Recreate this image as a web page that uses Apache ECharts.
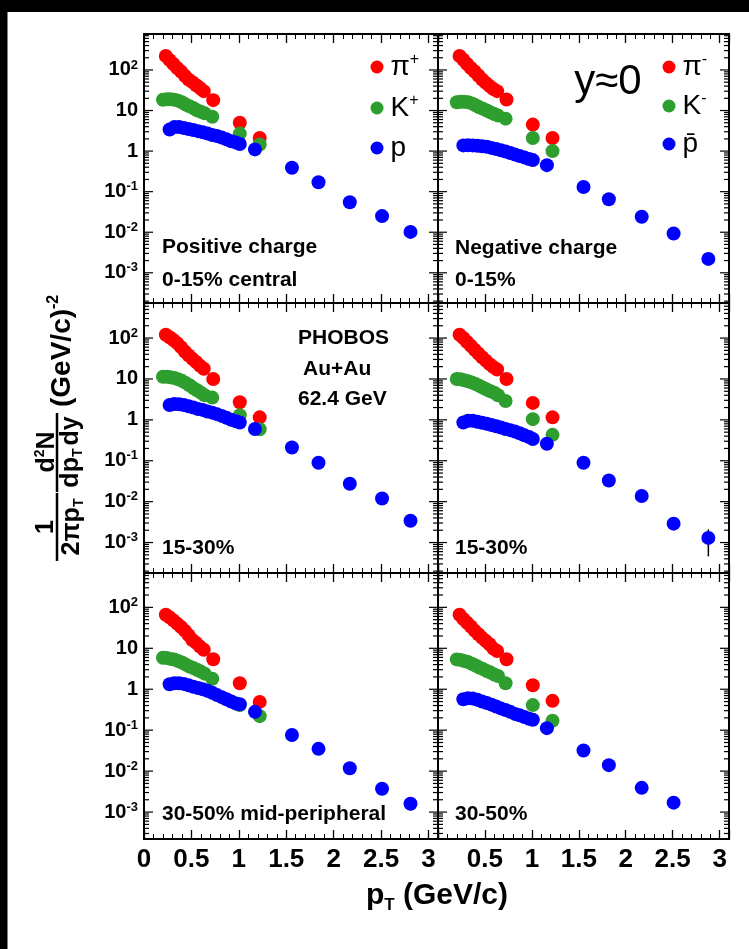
<!DOCTYPE html>
<html><head><meta charset="utf-8">
<script src="https://cdn.jsdelivr.net/npm/echarts@6/dist/echarts.min.js"></script>
<style>html,body{margin:0;padding:0;background:#fff}#c{width:749px;height:949px}</style>
</head><body><div id="c"></div><script>
// ---------- data ----------
const ptPion = [0.23,0.27,0.31,0.35,0.39,0.43,0.47,0.51,0.55,0.59,0.63,0.73,1.01,1.22];
const ptKaon = [0.20,0.24,0.28,0.32,0.36,0.40,0.44,0.48,0.52,0.56,0.60,0.64,0.72,1.01,1.22];
const ptProtonLeft  = [0.27,0.32,0.37,0.42,0.47,0.52,0.57,0.62,0.67,0.72,0.77,0.82,0.87,0.92,0.97,1.01,1.17,1.56,1.84,2.17,2.51,2.81];
const ptProtonRight = [0.27,0.32,0.37,0.42,0.47,0.52,0.57,0.62,0.67,0.72,0.77,0.82,0.87,0.92,0.97,1.01,1.16,1.55,1.82,2.17,2.51,2.88];

const pionPos_0_15  = [220,175,140,112,92,72,58,50,42,36,30,18,5.0,2.1];
const pionNeg_0_15  = [220,178,140,112,92,73,58,48,40,34,30,18.7,4.5,2.1];
const pionPos_15_30 = [120,105,90,75,60,47,38,31,26,21,17.7,10,2.7,1.15];
const pionNeg_15_30 = [120,100,80,65,52,42,34,28,23,19.5,17,10,2.6,1.15];
const pionPos_30_50 = [66,57,48,40,33,27,21,16,13.6,11,9.2,5.4,1.4,0.49];
const pionNeg_30_50 = [66,52,42,34,27,22,18,15,12.5,9.8,8.6,5.4,1.25,0.52];

const kaonPos_0_15  = [18.5,19,19,18.5,17.5,16,14,12.8,11.5,10.2,9.3,8.6,7.0,2.7,1.45];
const kaonNeg_0_15  = [16,16.5,16.5,16,15,13.5,12,11,10,9,8.2,7.5,6.3,2.1,1.0];
const kaonPos_15_30 = [11.3,11.3,11,10.5,9.8,9.0,8.0,7.0,6.0,5.3,4.6,4.0,3.5,1.3,0.59];
const kaonNeg_15_30 = [10,9.8,9.3,8.8,8.2,7.5,6.8,6.1,5.5,5.0,4.6,4.0,2.9,1.04,0.43];
const kaonPos_30_50 = [5.9,5.8,5.5,5.3,4.9,4.5,4.0,3.6,3.3,3.0,2.7,2.4,1.8,0.41,0.22];
const kaonNeg_30_50 = [5.35,5.2,4.9,4.6,4.2,3.8,3.4,3.1,2.8,2.55,2.3,2.1,1.4,0.41,0.17];

const protonPos_0_15  = [3.4,3.9,3.9,3.7,3.5,3.3,3.1,2.9,2.7,2.5,2.35,2.15,1.95,1.75,1.62,1.5,1.1,0.39,0.17,0.055,0.025,0.0102];
const protonNeg_0_15  = [1.38,1.4,1.38,1.35,1.32,1.28,1.2,1.12,1.05,0.98,0.9,0.82,0.76,0.7,0.64,0.6,0.45,0.13,0.065,0.024,0.0093,0.0022];
const protonPos_15_30 = [2.3,2.45,2.4,2.3,2.15,2.0,1.85,1.75,1.6,1.5,1.38,1.25,1.12,1.0,0.92,0.86,0.6,0.21,0.089,0.0275,0.0119,0.0034];
const protonNeg_15_30 = [0.86,0.95,0.95,0.9,0.85,0.8,0.75,0.7,0.65,0.6,0.56,0.52,0.47,0.42,0.38,0.34,0.26,0.089,0.033,0.0138,0.0029,0.0013];
const protonPos_30_50 = [1.32,1.4,1.4,1.35,1.25,1.15,1.07,1.0,0.92,0.82,0.72,0.64,0.57,0.5,0.45,0.43,0.28,0.076,0.035,0.0118,0.0037,0.0016];
const protonNeg_30_50 = [0.57,0.6,0.59,0.55,0.5,0.46,0.42,0.38,0.34,0.31,0.28,0.25,0.23,0.21,0.19,0.18,0.112,0.032,0.014,0.0039,0.0017,null];

// visible error bars (panel index, point index in proton arrays, low, high)
const errPanel = [3, 4, 5];
const errIndex = [21, 21, 20];
const errLow   = [0.00046, 0.0011, 0.0012];
const errHigh  = [0.0021, 0.0021, 0.0023];

const xTickLabels = ['0','0.5','1','1.5','2','2.5','3'];

// ---------- layout ----------
const cols = [{left:144,width:294},{left:438,width:291}];
const rows = [{top:34,height:269,min:1.8e-4,max:770},{top:303,height:270,min:1.8e-4,max:720},{top:573,height:266,min:2.2e-4,max:690}];
const panels = [
  {pion:pionPos_0_15, kaon:kaonPos_0_15, proton:protonPos_0_15, pt:ptProtonLeft, ch:'pos'},
  {pion:pionNeg_0_15, kaon:kaonNeg_0_15, proton:protonNeg_0_15, pt:ptProtonRight, ch:'neg'},
  {pion:pionPos_15_30, kaon:kaonPos_15_30, proton:protonPos_15_30, pt:ptProtonLeft, ch:'pos'},
  {pion:pionNeg_15_30, kaon:kaonNeg_15_30, proton:protonNeg_15_30, pt:ptProtonRight, ch:'neg'},
  {pion:pionPos_30_50, kaon:kaonPos_30_50, proton:protonPos_30_50, pt:ptProtonLeft, ch:'pos'},
  {pion:pionNeg_30_50, kaon:kaonNeg_30_50, proton:protonNeg_30_50, pt:ptProtonRight, ch:'neg'}
];
const RED='#ff0000', GREEN='#2e9e2e', BLUE='#0000ff';
const FONT='"Liberation Sans", Arial, sans-serif';

const grid=[], xAxis=[], yAxis=[], series=[];
function pairs(xs, ys){ const out=[]; ys.forEach((v,j)=>{ if(v!=null) out.push([xs[j], v]); }); return out; }

panels.forEach((p,i)=>{
  const r = Math.floor(i/2), c = i%2;
  const R = rows[r], C = cols[c];
  grid.push({left:C.left, top:R.top, width:C.width, height:R.height, show:true, borderColor:'#000', borderWidth:2, backgroundColor:'transparent', containLabel:false});
  const xBase = {gridIndex:i, type:'value', min:0, max:3.1, interval:0.5,
    axisLine:{show:false}, splitLine:{show:false},
    axisTick:{show:true, inside:true, length:9, lineStyle:{color:'#000', width:1.3}},
    minorTick:{show:true, splitNumber:5, length:5, lineStyle:{color:'#000', width:1}}};
  xAxis.push(Object.assign({}, xBase, {position:'bottom',
    axisLabel:{show: r===2, showMinLabel: c===0, showMaxLabel:false, color:'#000', fontFamily:FONT, fontWeight:'bold', fontSize:26, margin:8,
      formatter: v => { const k = Math.round(v*2); return xTickLabels[k] !== undefined ? xTickLabels[k] : ''; }}}));
  xAxis.push(Object.assign({}, xBase, {position:'top', axisLabel:{show:false}}));
  yAxis.push({gridIndex:i, type:'log', min:R.min, max:R.max, splitNumber:6,
    axisLine:{show:false}, axisTick:{show:false}, splitLine:{show:false}, minorTick:{show:false},
    axisLabel:{show: c===0, showMinLabel:false, showMaxLabel:false, margin:6, color:'#000',
      fontFamily:FONT, fontWeight:'bold', fontSize:20,
      formatter: v => { const e = Math.round(Math.log10(v)); if (e===0) return '{b|1}'; if (e===1) return '{b|10}'; return '{b|10}{s|'+e+'}'; },
      rich:{ b:{fontFamily:FONT, fontWeight:'bold', fontSize:20, lineHeight:23, color:'#000'},
             s:{fontFamily:FONT, fontWeight:'bold', fontSize:13, lineHeight:13, verticalAlign:'top', color:'#000'} }}});
  const xi = i*2;
  const names = p.ch==='pos' ? ['pi+','K+','p'] : ['pi-','K-','pbar'];
  const mk = (name, color, xs, ys, z) => ({type:'scatter', name, xAxisIndex:xi, yAxisIndex:i, symbol:'circle', symbolSize:14,
    itemStyle:{color, opacity:1}, data:pairs(xs, ys), z});
  series.push(mk(names[0], RED, ptPion, p.pion, 3));
  series.push(mk(names[1], GREEN, ptKaon, p.kaon, 4));
  series.push(mk(names[2], BLUE, p.pt, p.proton, 5));
  // log-axis ticks (major + 2..9 minors) on left and right frame edges
  const tickData = [];
  for (let e=-4; e<=3; e++) for (let m=1; m<=9; m++) { const v=m*Math.pow(10,e); if (v>R.min && v<R.max) tickData.push([1.5, v, m===1?1:0]); }
  series.push({type:'custom', xAxisIndex:xi, yAxisIndex:i, silent:true, z:10, data:tickData,
    encode:{x:0, y:1},
    renderItem:(params, api)=>{
      const pt = api.coord([api.value(0), api.value(1)]);
      const cs = params.coordSys; const L = api.value(2) ? 9 : 5;
      return {type:'group', children:[
        {type:'line', shape:{x1:cs.x, y1:pt[1], x2:cs.x+L, y2:pt[1]}, style:{stroke:'#000', lineWidth:1.2}},
        {type:'line', shape:{x1:cs.x+cs.width, y1:pt[1], x2:cs.x+cs.width-L, y2:pt[1]}, style:{stroke:'#000', lineWidth:1.2}}
      ]};
    }});
  // error bars
  const eb = [];
  errPanel.forEach((pi,k)=>{ if (pi===i) eb.push([p.pt[errIndex[k]], errLow[k], errHigh[k]]); });
  if (eb.length) series.push({type:'custom', xAxisIndex:xi, yAxisIndex:i, silent:true, z:2, data:eb, encode:{x:0, y:[1,2]},
    renderItem:(params, api)=>{
      const a = api.coord([api.value(0), api.value(1)]), b = api.coord([api.value(0), api.value(2)]);
      return {type:'line', shape:{x1:a[0], y1:a[1], x2:b[0], y2:b[1]}, style:{stroke:'#000', lineWidth:1.5}};
    }});
});

const legendRich = {m:{fontFamily:FONT, fontSize:28, lineHeight:30, color:'#000'}, s:{fontFamily:FONT, fontSize:16, lineHeight:16, verticalAlign:'top', color:'#000'}};
const legendFmt = {'pi+':'{m|π}{s|+}','K+':'{m|K}{s|+}','p':'{m|p}','pi-':'{m|π}{s|-}','K-':'{m|K}{s|-}','pbar':'{m|p̄}'};
const legendBase = {orient:'vertical', icon:'circle', itemWidth:13, itemHeight:13, itemGap:12, padding:0, selectedMode:false,
  formatter: n => legendFmt[n], textStyle:{rich:legendRich, padding:[0,0,0,2]}};

const tb = (text, x, y, size) => ({type:'text', x, y, style:{text, fill:'#000', font:'bold '+(size||21)+'px '+FONT, align:'left', verticalAlign:'middle'}});
const rot = Math.PI/2;
const graphic = [
  {type:'rect', shape:{x:0,y:0,width:749,height:12}, style:{fill:'#000'}},
  {type:'rect', shape:{x:0,y:0,width:7.5,height:949}, style:{fill:'#000'}},
  tb('Positive charge',162,247), tb('0-15% central',162,280),
  tb('Negative charge',455,248), tb('0-15%',455,280),
  tb('PHOBOS',298,338), tb('Au+Au',303,369), tb('62.4 GeV',298,399),
  tb('15-30%',162,548), tb('15-30%',455,548),
  tb('30-50% mid-peripheral',162,814), tb('30-50%',455,814),
  {type:'text', x:608, y:82, style:{text:'y≈0', fill:'#000', font:'42px '+FONT, align:'center', verticalAlign:'middle'}},
  // x title
  {type:'text', x:437, y:896, style:{text:'{a|p}{t|T}{a| (GeV/c)}', align:'center', verticalAlign:'middle',
    rich:{a:{fontFamily:FONT, fontWeight:'bold', fontSize:30, lineHeight:36, fill:'#000'}, t:{fontFamily:FONT, fontWeight:'bold', fontSize:17, lineHeight:17, verticalAlign:'bottom', fill:'#000'}}}},
  // y title (rotated)
  {type:'text', x:46, y:527, rotation:rot, style:{text:'1', font:'bold 25px '+FONT, fill:'#000', align:'center', verticalAlign:'middle'}},
  {type:'line', shape:{x1:57,y1:493,x2:57,y2:561}, style:{stroke:'#000', lineWidth:2.5}},
  {type:'text', x:72, y:527, rotation:rot, style:{text:'{a|2πp}{t|T}', align:'center', verticalAlign:'middle',
    rich:{a:{fontFamily:FONT, fontWeight:'bold', fontSize:25, lineHeight:28, fill:'#000'}, t:{fontFamily:FONT, fontWeight:'bold', fontSize:14, lineHeight:14, verticalAlign:'bottom', fill:'#000'}}}},
  {type:'text', x:47, y:452, rotation:rot, style:{text:'{a|d}{s|2}{a|N}', align:'center', verticalAlign:'middle',
    rich:{a:{fontFamily:FONT, fontWeight:'bold', fontSize:25, lineHeight:28, fill:'#000'}, s:{fontFamily:FONT, fontWeight:'bold', fontSize:14, lineHeight:14, verticalAlign:'top', fill:'#000'}}}},
  {type:'line', shape:{x1:57,y1:413,x2:57,y2:492}, style:{stroke:'#000', lineWidth:2.5}},
  {type:'text', x:71, y:452, rotation:rot, style:{text:'{a|dp}{t|T}{a|dy}', align:'center', verticalAlign:'middle',
    rich:{a:{fontFamily:FONT, fontWeight:'bold', fontSize:25, lineHeight:28, fill:'#000'}, t:{fontFamily:FONT, fontWeight:'bold', fontSize:14, lineHeight:14, verticalAlign:'bottom', padding:[0,3,0,0], fill:'#000'}}}},
  {type:'text', x:62, y:407, rotation:rot, style:{text:'{a|(GeV/c)}{s|-2}', align:'left', verticalAlign:'middle',
    rich:{a:{fontFamily:FONT, fontWeight:'bold', fontSize:28, lineHeight:32, fill:'#000'}, s:{fontFamily:FONT, fontWeight:'bold', fontSize:16, lineHeight:16, verticalAlign:'top', fill:'#000'}}}}
];

const chart = echarts.init(document.getElementById('c'), null, {renderer:'canvas'});
chart.setOption({
  animation:false,
  backgroundColor:'#fff',
  grid, xAxis, yAxis, series, graphic,
  legend:[
    Object.assign({}, legendBase, {left:370.5, top:52, data:['pi+','K+','p']}),
    Object.assign({}, legendBase, {left:662.5, top:52, itemGap:10, data:['pi-','K-','pbar']})
  ]
});
</script></body></html>
